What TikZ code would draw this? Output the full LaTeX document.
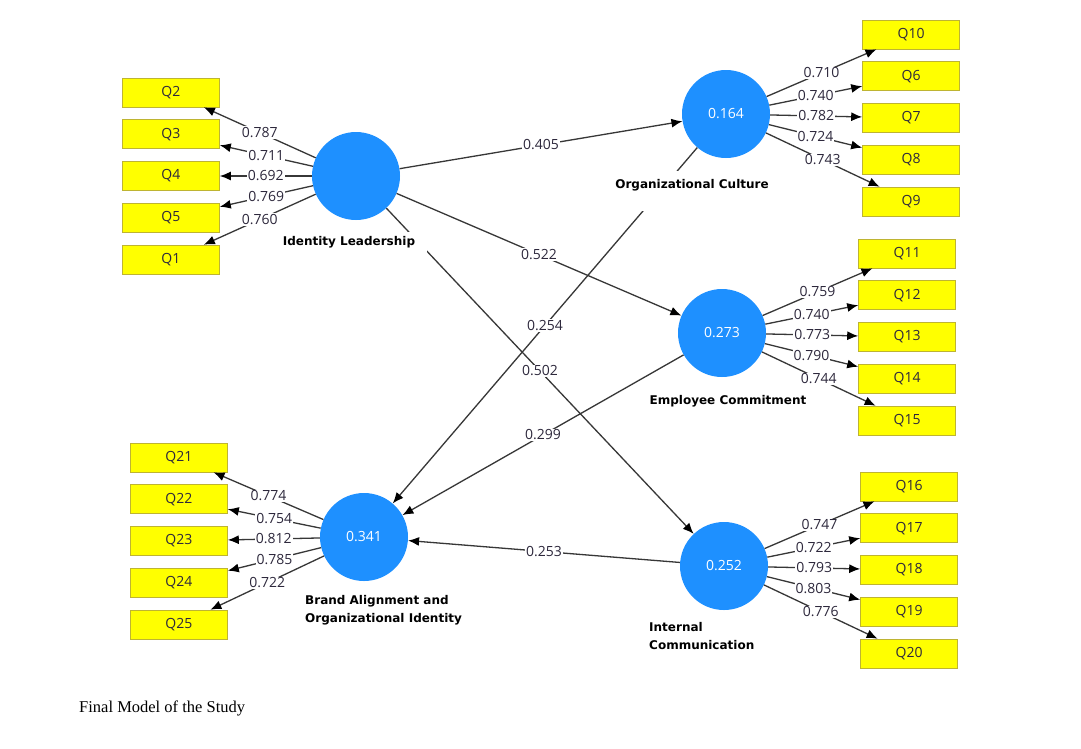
\documentclass[tikz,border=0pt]{standalone}
\usepackage{fontspec}
\setmainfont{Open Sans}
\newfontfamily\namefont{DejaVu Sans}
\newfontfamily\capfont{Liberation Serif}
\usetikzlibrary{positioning,arrows.meta}

\definecolor{lvblue}{RGB}{30,144,255}
\definecolor{indyellow}{RGB}{255,255,0}
\definecolor{indborder}{RGB}{190,180,50}
\definecolor{pathgray}{RGB}{55,55,55}
\definecolor{numgray}{RGB}{45,40,60}

\tikzset{
  latent/.style={circle, fill=lvblue, minimum size=88pt, inner sep=0pt,
    text=white, font=\fontsize{14}{16}\selectfont},
  indicator/.style={rectangle, fill=indyellow, draw=indborder, line width=0.8pt,
    minimum width=97pt, minimum height=29pt, inner sep=0pt,
    text=numgray, font=\fontsize{14}{16}\selectfont},
  lvname/.style={font=\namefont\bfseries\fontsize{12}{18}\selectfont, text=black},
  loading/.style={draw=pathgray, line width=1.3pt, -{Latex[length=11pt,width=9pt,black]}},
  coef/.style={fill=white, inner sep=1pt, text=numgray, font=\fontsize{14}{16}\selectfont},
}

\begin{document}
\begin{tikzpicture}[x=1pt, y=-1pt]
  \fill[white] (0,0) rectangle (1081,748);
  \useasboundingbox (0,0) rectangle (1081,748);

  \node[latent] (il) at (356,176) {};
  \node[latent] (oc) at (726,114) {0.164};
  \node[latent] (ec) at (722,333) {0.273};
  \node[latent] (ba) at (364,537) {0.341};
  \node[latent] (ic) at (724,566) {0.252};

  \node[indicator, left=92pt of il] (q4) {Q4};
  \node[indicator, above=12pt of q4] (q3) {Q3};
  \node[indicator, above=12pt of q3] (q2) {Q2};
  \node[indicator, below=12pt of q4] (q5) {Q5};
  \node[indicator, below=12pt of q5] (q1) {Q1};

  \node[indicator, right=92pt of oc, yshift=-4pt] (q7) {Q7};
  \node[indicator, above=12pt of q7] (q6) {Q6};
  \node[indicator, above=12pt of q6] (q10) {Q10};
  \node[indicator, below=12pt of q7] (q8) {Q8};
  \node[indicator, below=12pt of q8] (q9) {Q9};

  \node[indicator, right=92pt of ec, yshift=-4pt] (q13) {Q13};
  \node[indicator, above=12pt of q13] (q12) {Q12};
  \node[indicator, above=12pt of q12] (q11) {Q11};
  \node[indicator, below=12pt of q13] (q14) {Q14};
  \node[indicator, below=12pt of q14] (q15) {Q15};

  \node[indicator, left=92pt of ba, yshift=-4pt] (q23) {Q23};
  \node[indicator, above=12pt of q23] (q22) {Q22};
  \node[indicator, above=12pt of q22] (q21) {Q21};
  \node[indicator, below=12pt of q23] (q24) {Q24};
  \node[indicator, below=12pt of q24] (q25) {Q25};

  \node[indicator, right=92pt of ic, yshift=-4pt] (q18) {Q18};
  \node[indicator, above=12pt of q18] (q17) {Q17};
  \node[indicator, above=12pt of q17] (q16) {Q16};
  \node[indicator, below=12pt of q18] (q19) {Q19};
  \node[indicator, below=12pt of q19] (q20) {Q20};

  % outer loadings
  \draw[loading] (il) -- (q2) node[midway, coef] {0.787};
  \draw[loading] (il) -- (q3) node[midway, coef] {0.711};
  \draw[loading] (il) -- (q4) node[midway, coef] {0.692};
  \draw[loading] (il) -- (q5) node[midway, coef] {0.769};
  \draw[loading] (il) -- (q1) node[midway, coef] {0.760};

  \draw[loading] (oc) -- (q10) node[midway, coef] {0.710};
  \draw[loading] (oc) -- (q6) node[midway, coef] {0.740};
  \draw[loading] (oc) -- (q7) node[midway, coef] {0.782};
  \draw[loading] (oc) -- (q8) node[midway, coef] {0.724};
  \draw[loading] (oc) -- (q9) node[midway, coef] {0.743};

  \draw[loading] (ec) -- (q11) node[midway, coef] {0.759};
  \draw[loading] (ec) -- (q12) node[midway, coef] {0.740};
  \draw[loading] (ec) -- (q13) node[midway, coef] {0.773};
  \draw[loading] (ec) -- (q14) node[midway, coef] {0.790};
  \draw[loading] (ec) -- (q15) node[midway, coef] {0.744};

  \draw[loading] (ba) -- (q21) node[midway, coef] {0.774};
  \draw[loading] (ba) -- (q22) node[midway, coef] {0.754};
  \draw[loading] (ba) -- (q23) node[midway, coef] {0.812};
  \draw[loading] (ba) -- (q24) node[midway, coef] {0.785};
  \draw[loading] (ba) -- (q25) node[midway, coef] {0.722};

  \draw[loading] (ic) -- (q16) node[midway, coef] {0.747};
  \draw[loading] (ic) -- (q17) node[midway, coef] {0.722};
  \draw[loading] (ic) -- (q18) node[midway, coef] {0.793};
  \draw[loading] (ic) -- (q19) node[midway, coef] {0.803};
  \draw[loading] (ic) -- (q20) node[midway, coef] {0.776};

  % path coefficients
  \draw[loading] (il) -- (oc) node[midway, coef] {0.405};
  \draw[loading] (il) -- (ec) node[midway, coef] {0.522};
  \draw[loading] (il) -- (ic) node[midway, coef] {0.502};
  \draw[loading] (oc) -- (ba) node[midway, coef] {0.254};
  \draw[loading] (ec) -- (ba) node[midway, coef] {0.299};
  \draw[loading] (ic) -- (ba) node[midway, coef] {0.253};

  \node[lvname, fill=white, anchor=base, text height=13pt, text depth=12pt,
    inner xsep=12pt, inner ysep=0pt] (ilname) at (349,245) {Identity Leadership};
  \node[lvname, fill=white, anchor=base, text height=17pt, text depth=23pt,
    inner sep=0pt] (ocname) at (692,188) {Organizational Culture};
  \node[lvname, anchor=base] (ecname) at (728,404) {Employee Commitment};
  \node[lvname, anchor=north west, align=left, inner sep=0pt] (baname) at (305,595)
    {Brand Alignment and\\Organizational Identity};
  \node[lvname, anchor=north west, align=left, inner sep=0pt] (icname) at (649,622)
    {Internal\\Communication};

  \node[anchor=base west, inner sep=0pt, font=\capfont\fontsize{16.5}{19}\selectfont]
    (caption) at (79,712) {Final Model of the Study};
\end{tikzpicture}
\end{document}
